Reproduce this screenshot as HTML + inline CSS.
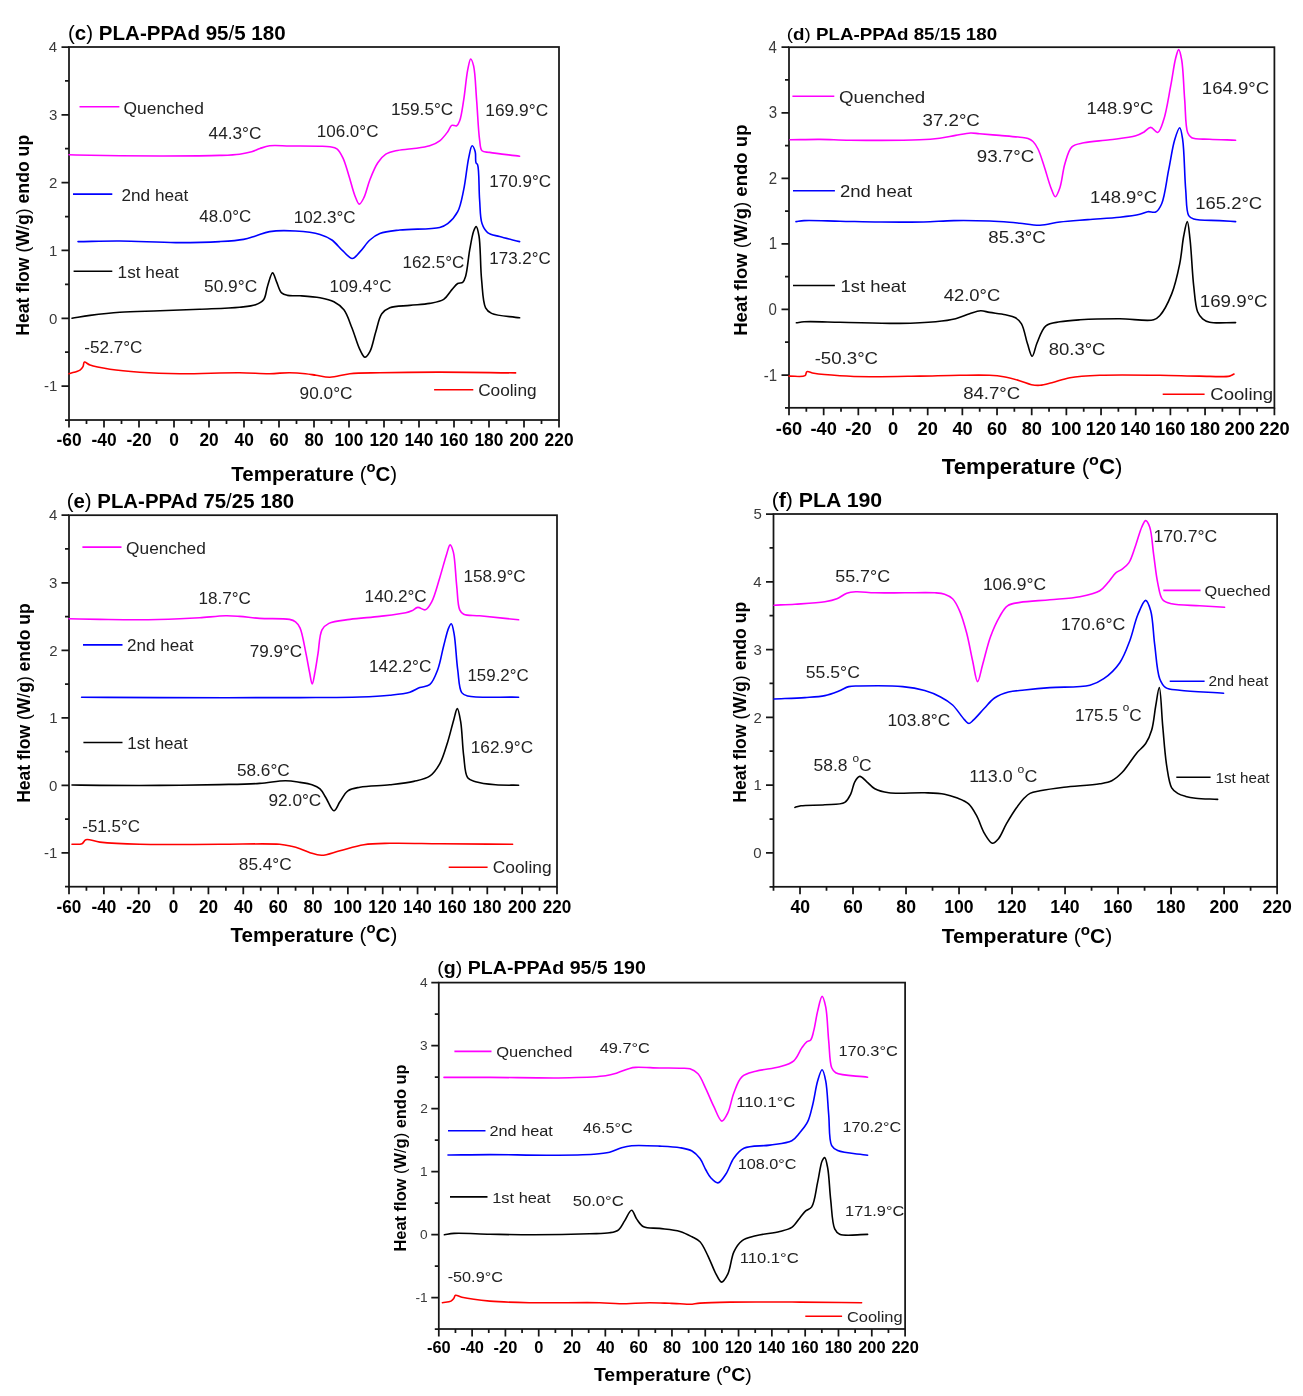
<!DOCTYPE html>
<html><head><meta charset="utf-8"><style>
html,body{margin:0;padding:0;background:#fff;}
svg{display:block;will-change:transform;}
text{font-family:"Liberation Sans", sans-serif;}
</style></head><body>
<svg width="1303" height="1396" viewBox="0 0 1303 1396">
<rect width="1303" height="1396" fill="#fff"/>
<path d="M69.00,420.00V427.50 M86.50,420.00V424.00 M104.00,420.00V427.50 M121.50,420.00V424.00 M139.00,420.00V427.50 M156.50,420.00V424.00 M174.00,420.00V427.50 M191.50,420.00V424.00 M209.00,420.00V427.50 M226.50,420.00V424.00 M244.00,420.00V427.50 M261.50,420.00V424.00 M279.00,420.00V427.50 M296.50,420.00V424.00 M314.00,420.00V427.50 M331.50,420.00V424.00 M349.00,420.00V427.50 M366.50,420.00V424.00 M384.00,420.00V427.50 M401.50,420.00V424.00 M419.00,420.00V427.50 M436.50,420.00V424.00 M454.00,420.00V427.50 M471.50,420.00V424.00 M489.00,420.00V427.50 M506.50,420.00V424.00 M524.00,420.00V427.50 M541.50,420.00V424.00 M559.00,420.00V427.50 M69.00,420.00H65.00 M69.00,386.09H61.50 M69.00,352.18H65.00 M69.00,318.27H61.50 M69.00,284.36H65.00 M69.00,250.45H61.50 M69.00,216.55H65.00 M69.00,182.64H61.50 M69.00,148.73H65.00 M69.00,114.82H61.50 M69.00,80.91H65.00 M69.00,47.00H61.50" stroke="#161616" stroke-width="1.75" fill="none"/>
<rect x="69.00" y="47.00" width="490.00" height="373.00" stroke="#161616" stroke-width="1.75" fill="none"/>
<text transform="translate(56.46,446.30) scale(0.9750,1)" font-size="17.80" font-weight="bold" fill="#000">-60</text>
<text transform="translate(91.46,446.30) scale(0.9750,1)" font-size="17.80" font-weight="bold" fill="#000">-40</text>
<text transform="translate(126.46,446.30) scale(0.9750,1)" font-size="17.80" font-weight="bold" fill="#000">-20</text>
<text transform="translate(169.18,446.30) scale(0.9750,1)" font-size="17.80" font-weight="bold" fill="#000">0</text>
<text transform="translate(199.41,446.30) scale(0.9750,1)" font-size="17.80" font-weight="bold" fill="#000">20</text>
<text transform="translate(234.58,446.30) scale(0.9750,1)" font-size="17.80" font-weight="bold" fill="#000">40</text>
<text transform="translate(269.41,446.30) scale(0.9750,1)" font-size="17.80" font-weight="bold" fill="#000">60</text>
<text transform="translate(304.45,446.30) scale(0.9750,1)" font-size="17.80" font-weight="bold" fill="#000">80</text>
<text transform="translate(334.38,446.30) scale(0.9750,1)" font-size="17.80" font-weight="bold" fill="#000">100</text>
<text transform="translate(369.38,446.30) scale(0.9750,1)" font-size="17.80" font-weight="bold" fill="#000">120</text>
<text transform="translate(404.38,446.30) scale(0.9750,1)" font-size="17.80" font-weight="bold" fill="#000">140</text>
<text transform="translate(439.38,446.30) scale(0.9750,1)" font-size="17.80" font-weight="bold" fill="#000">160</text>
<text transform="translate(474.38,446.30) scale(0.9750,1)" font-size="17.80" font-weight="bold" fill="#000">180</text>
<text transform="translate(509.60,446.30) scale(0.9750,1)" font-size="17.80" font-weight="bold" fill="#000">200</text>
<text transform="translate(544.60,446.30) scale(0.9750,1)" font-size="17.80" font-weight="bold" fill="#000">220</text>
<text transform="translate(48.83,52.17) scale(1.0000,1)" font-size="15.00" font-weight="normal" fill="#3a3a3a">4</text>
<text transform="translate(48.98,120.07) scale(1.0000,1)" font-size="15.00" font-weight="normal" fill="#3a3a3a">3</text>
<text transform="translate(49.12,187.89) scale(1.0000,1)" font-size="15.00" font-weight="normal" fill="#3a3a3a">2</text>
<text transform="translate(49.05,255.63) scale(1.0000,1)" font-size="15.00" font-weight="normal" fill="#3a3a3a">1</text>
<text transform="translate(48.90,323.52) scale(1.0000,1)" font-size="15.00" font-weight="normal" fill="#3a3a3a">0</text>
<text transform="translate(44.03,391.27) scale(1.0000,1)" font-size="15.00" font-weight="normal" fill="#3a3a3a">-1</text>
<text transform="translate(67.97,40.30) scale(1.0021,1)" font-size="20.50" font-weight="bold" fill="#000"><tspan font-weight="normal">(</tspan>c<tspan font-weight="normal">)</tspan> PLA-PPAd 95<tspan font-weight="normal">/</tspan>5 180</text>
<text transform="translate(231.29,480.60) scale(1.0252,1)" font-size="20.00" font-weight="bold" fill="#000">Temperature <tspan font-weight="normal">(</tspan><tspan dy="-8.40" font-size="14.40">o</tspan><tspan dy="8.40">C</tspan><tspan font-weight="normal">)</tspan></text>
<text transform="translate(28.80,335.85) rotate(-90) scale(0.9541,1)" font-size="18.50" font-weight="bold" fill="#000">Heat flow <tspan font-weight="normal">(</tspan>W<tspan font-weight="normal">/</tspan>g<tspan font-weight="normal">)</tspan> endo up</text>
<path d="M69.00,154.80 C76.00,154.97 82.38,155.15 90.00,155.30 C99.11,155.48 109.28,155.68 120.00,155.80 C132.38,155.93 145.34,156.04 160.00,156.00 C177.91,155.95 205.14,155.91 219.70,155.40 C228.12,155.10 233.82,154.95 239.60,154.20 C244.13,153.61 248.00,152.86 251.60,151.80 C254.69,150.89 257.08,149.48 260.00,148.50 C263.07,147.47 265.76,146.31 269.60,145.80 C275.09,145.07 282.57,145.94 290.00,146.00 C298.93,146.07 312.18,145.96 319.50,146.20 C323.85,146.34 326.80,146.27 329.90,146.80 C332.49,147.24 334.88,147.32 336.90,148.80 C339.36,150.60 341.11,154.15 342.90,157.80 C345.27,162.63 346.95,169.55 348.90,175.70 C350.95,182.17 352.79,190.53 354.90,195.70 C356.32,199.18 357.72,203.99 359.30,204.10 C360.74,204.20 362.46,200.51 363.90,197.70 C366.13,193.34 367.57,185.54 369.90,179.70 C372.21,173.91 374.76,167.31 377.80,162.80 C380.21,159.22 382.70,156.21 385.80,154.20 C388.74,152.30 392.03,151.67 395.80,150.80 C400.46,149.73 406.33,149.60 411.80,148.80 C417.61,147.95 424.70,147.43 429.70,145.80 C433.63,144.52 436.74,143.07 439.70,140.80 C442.77,138.45 445.58,134.63 447.70,131.80 C449.38,129.56 449.97,126.27 451.70,125.40 C453.11,124.69 455.39,126.47 456.70,125.80 C458.11,125.07 458.80,123.15 459.70,120.80 C461.41,116.32 462.46,107.51 463.70,99.90 C465.17,90.82 466.18,77.38 467.70,69.90 C468.63,65.33 469.60,59.07 470.70,59.00 C471.60,58.94 472.79,62.64 473.60,65.90 C475.32,72.86 475.64,88.11 476.60,99.90 C477.64,112.66 478.27,130.67 479.60,139.80 C480.31,144.64 479.97,148.79 482.00,150.80 C483.69,152.47 486.21,151.83 489.60,152.40 C496.28,153.52 509.60,154.93 519.60,156.20" stroke="#ff00ff" stroke-width="1.60" fill="none" stroke-linejoin="round" stroke-linecap="round"/>
<path d="M78.00,241.60 C91.97,241.40 104.93,240.89 119.90,241.00 C137.19,241.12 158.29,242.55 175.80,242.60 C191.32,242.65 207.28,242.31 219.70,241.60 C228.88,241.07 237.04,240.62 243.60,239.40 C248.33,238.52 251.46,237.24 255.60,236.00 C260.10,234.66 264.15,232.50 269.60,231.60 C276.85,230.40 287.01,230.51 295.50,231.00 C303.80,231.48 313.41,232.44 320.00,234.40 C324.81,235.83 328.22,237.42 331.90,240.00 C335.90,242.80 339.30,247.67 342.90,250.90 C346.08,253.75 349.35,258.55 352.30,258.50 C354.99,258.45 357.30,254.54 359.90,251.90 C363.13,248.62 366.32,243.16 369.90,240.00 C373.02,237.25 375.73,235.21 379.80,233.60 C385.14,231.49 391.96,230.96 399.80,230.00 C410.79,228.66 431.59,229.51 439.70,227.40 C443.52,226.41 445.10,225.61 447.70,223.60 C451.15,220.94 455.13,216.61 457.70,211.70 C460.82,205.75 461.97,197.77 463.70,189.70 C465.75,180.10 466.94,165.84 468.70,157.80 C469.80,152.80 470.81,145.93 472.10,145.80 C473.05,145.70 474.53,149.42 475.20,151.80 C476.06,154.84 475.15,160.71 476.00,162.80 C476.40,163.79 477.14,163.55 477.60,164.70 C479.32,169.03 478.77,189.15 479.60,199.70 C480.29,208.43 479.99,217.71 482.00,223.60 C483.33,227.51 484.88,230.45 487.60,232.60 C490.58,234.95 495.06,235.28 499.60,236.60 C505.39,238.29 512.93,239.93 519.60,241.60" stroke="#0000ff" stroke-width="1.60" fill="none" stroke-linejoin="round" stroke-linecap="round"/>
<path d="M72.00,318.20 C78.00,317.27 83.23,316.29 90.00,315.40 C98.70,314.26 109.20,312.96 119.90,312.20 C132.23,311.33 146.50,311.30 159.80,310.80 C173.10,310.30 186.40,309.80 199.70,309.20 C213.00,308.60 229.31,308.23 239.60,307.20 C246.15,306.55 251.31,306.38 255.60,304.80 C258.88,303.59 261.64,302.39 263.60,299.80 C266.02,296.59 266.08,290.42 267.60,285.90 C269.09,281.46 270.98,272.94 272.60,272.90 C273.96,272.87 275.19,278.75 276.60,281.90 C278.17,285.39 279.34,290.69 281.60,292.90 C283.25,294.51 285.11,294.87 287.50,295.40 C290.84,296.13 295.35,295.49 300.00,295.80 C305.89,296.19 313.99,296.64 320.00,297.80 C325.10,298.78 329.83,299.69 333.90,301.80 C337.73,303.78 341.09,306.16 343.90,309.80 C347.38,314.31 349.34,321.46 351.90,327.80 C354.69,334.70 357.23,344.40 359.90,349.70 C361.57,353.01 363.15,357.17 364.90,357.30 C366.49,357.42 368.42,354.36 369.90,351.70 C372.37,347.27 373.77,338.25 375.80,331.80 C377.74,325.63 378.83,317.92 381.80,313.80 C383.96,310.81 386.29,309.21 389.80,307.80 C394.78,305.80 403.14,306.13 409.80,305.40 C416.44,304.67 423.69,304.55 429.70,303.40 C434.82,302.42 439.96,301.82 443.70,299.40 C447.16,297.16 449.19,292.73 451.70,289.90 C453.81,287.53 455.60,284.72 457.70,283.50 C459.31,282.57 461.41,283.35 462.70,282.30 C464.21,281.06 464.81,278.84 465.70,275.90 C467.43,270.23 468.25,257.86 469.70,249.90 C470.95,243.08 472.17,235.03 473.70,231.00 C474.48,228.94 475.43,226.51 476.20,226.60 C477.27,226.72 478.23,231.65 479.00,236.00 C480.62,245.20 480.29,266.94 481.60,279.90 C482.65,290.27 482.73,302.29 485.60,307.80 C487.15,310.77 488.54,311.91 491.60,313.40 C497.28,316.17 510.27,316.33 519.60,317.80" stroke="#000000" stroke-width="1.60" fill="none" stroke-linejoin="round" stroke-linecap="round"/>
<path d="M69.00,373.70 C72.67,372.50 77.61,371.68 80.00,370.10 C81.50,369.11 82.27,368.01 83.00,366.70 C83.75,365.35 83.39,362.52 84.40,362.10 C85.56,361.62 87.47,364.18 90.00,365.10 C94.52,366.75 102.56,368.16 109.90,369.30 C118.82,370.69 129.10,371.58 139.80,372.30 C152.15,373.13 165.13,373.57 179.80,373.70 C197.73,373.86 223.07,372.56 239.60,372.70 C251.31,372.80 260.62,373.78 269.60,373.70 C276.91,373.64 283.23,372.66 289.50,372.70 C295.12,372.73 300.74,373.19 305.50,373.70 C309.38,374.12 312.25,374.75 316.00,375.30 C320.31,375.94 324.85,377.39 329.90,377.30 C335.97,377.19 342.53,374.48 349.90,373.70 C358.84,372.75 368.12,372.95 379.80,372.70 C396.33,372.34 418.55,372.09 439.70,372.10 C463.50,372.11 490.30,372.63 515.60,372.90" stroke="#ff0000" stroke-width="1.60" fill="none" stroke-linejoin="round" stroke-linecap="round"/>
<path d="M79.5,106.7H119.4" stroke="#ff00ff" stroke-width="1.60"/>
<path d="M73.0,194.1H112.3" stroke="#0000ff" stroke-width="1.60"/>
<path d="M73.6,271.3H112.3" stroke="#000000" stroke-width="1.60"/>
<path d="M434.1,389.7H473.3" stroke="#ff0000" stroke-width="1.60"/>
<text transform="translate(123.52,113.50) scale(1.0118,1)" font-size="17.20" font-weight="normal" fill="#222">Quenched</text>
<text transform="translate(121.44,200.70) scale(1.0006,1)" font-size="17.20" font-weight="normal" fill="#222">2nd heat</text>
<text transform="translate(117.61,277.90) scale(1.0022,1)" font-size="17.20" font-weight="normal" fill="#222">1st heat</text>
<text transform="translate(478.14,395.60) scale(1.0030,1)" font-size="17.20" font-weight="normal" fill="#222">Cooling</text>
<text transform="translate(208.56,138.80) scale(1.0025,1)" font-size="17.20" font-weight="normal" fill="#222">44.3°C</text>
<text transform="translate(316.72,136.80) scale(0.9905,1)" font-size="17.20" font-weight="normal" fill="#222">106.0°C</text>
<text transform="translate(390.91,114.90) scale(1.0021,1)" font-size="17.20" font-weight="normal" fill="#222">159.5°C</text>
<text transform="translate(485.30,116.40) scale(1.0087,1)" font-size="17.20" font-weight="normal" fill="#222">169.9°C</text>
<text transform="translate(199.36,222.00) scale(0.9832,1)" font-size="17.20" font-weight="normal" fill="#222">48.0°C</text>
<text transform="translate(293.82,222.60) scale(0.9905,1)" font-size="17.20" font-weight="normal" fill="#222">102.3°C</text>
<text transform="translate(489.32,187.10) scale(0.9922,1)" font-size="17.20" font-weight="normal" fill="#222">170.9°C</text>
<text transform="translate(204.01,292.30) scale(1.0092,1)" font-size="17.20" font-weight="normal" fill="#222">50.9°C</text>
<text transform="translate(329.62,291.90) scale(0.9922,1)" font-size="17.20" font-weight="normal" fill="#222">109.4°C</text>
<text transform="translate(402.52,268.30) scale(0.9922,1)" font-size="17.20" font-weight="normal" fill="#222">162.5°C</text>
<text transform="translate(489.33,264.30) scale(0.9856,1)" font-size="17.20" font-weight="normal" fill="#222">173.2°C</text>
<text transform="translate(84.23,353.30) scale(0.9947,1)" font-size="17.20" font-weight="normal" fill="#222">-52.7°C</text>
<text transform="translate(299.62,398.60) scale(1.0031,1)" font-size="17.20" font-weight="normal" fill="#222">90.0°C</text>
<path d="M789.00,407.80V415.30 M806.34,407.80V411.80 M823.67,407.80V415.30 M841.01,407.80V411.80 M858.34,407.80V415.30 M875.68,407.80V411.80 M893.01,407.80V415.30 M910.35,407.80V411.80 M927.69,407.80V415.30 M945.02,407.80V411.80 M962.36,407.80V415.30 M979.69,407.80V411.80 M997.03,407.80V415.30 M1014.36,407.80V411.80 M1031.70,407.80V415.30 M1049.04,407.80V411.80 M1066.37,407.80V415.30 M1083.71,407.80V411.80 M1101.04,407.80V415.30 M1118.38,407.80V411.80 M1135.71,407.80V415.30 M1153.05,407.80V411.80 M1170.39,407.80V415.30 M1187.72,407.80V411.80 M1205.06,407.80V415.30 M1222.39,407.80V411.80 M1239.73,407.80V415.30 M1257.06,407.80V411.80 M1274.40,407.80V415.30 M789.00,407.80H785.00 M789.00,375.02H781.50 M789.00,342.24H785.00 M789.00,309.45H781.50 M789.00,276.67H785.00 M789.00,243.89H781.50 M789.00,211.11H785.00 M789.00,178.33H781.50 M789.00,145.55H785.00 M789.00,112.76H781.50 M789.00,79.98H785.00 M789.00,47.20H781.50" stroke="#161616" stroke-width="1.75" fill="none"/>
<rect x="789.00" y="47.20" width="485.40" height="360.60" stroke="#161616" stroke-width="1.75" fill="none"/>
<text transform="translate(775.83,434.90) scale(1.0130,1)" font-size="18.00" font-weight="bold" fill="#000">-60</text>
<text transform="translate(810.50,434.90) scale(1.0130,1)" font-size="18.00" font-weight="bold" fill="#000">-40</text>
<text transform="translate(845.17,434.90) scale(1.0130,1)" font-size="18.00" font-weight="bold" fill="#000">-20</text>
<text transform="translate(887.95,434.90) scale(1.0130,1)" font-size="18.00" font-weight="bold" fill="#000">0</text>
<text transform="translate(917.61,434.90) scale(1.0130,1)" font-size="18.00" font-weight="bold" fill="#000">20</text>
<text transform="translate(952.47,434.90) scale(1.0130,1)" font-size="18.00" font-weight="bold" fill="#000">40</text>
<text transform="translate(986.95,434.90) scale(1.0130,1)" font-size="18.00" font-weight="bold" fill="#000">60</text>
<text transform="translate(1021.67,434.90) scale(1.0130,1)" font-size="18.00" font-weight="bold" fill="#000">80</text>
<text transform="translate(1051.01,434.90) scale(1.0130,1)" font-size="18.00" font-weight="bold" fill="#000">100</text>
<text transform="translate(1085.68,434.90) scale(1.0130,1)" font-size="18.00" font-weight="bold" fill="#000">120</text>
<text transform="translate(1120.35,434.90) scale(1.0130,1)" font-size="18.00" font-weight="bold" fill="#000">140</text>
<text transform="translate(1155.02,434.90) scale(1.0130,1)" font-size="18.00" font-weight="bold" fill="#000">160</text>
<text transform="translate(1189.69,434.90) scale(1.0130,1)" font-size="18.00" font-weight="bold" fill="#000">180</text>
<text transform="translate(1224.59,434.90) scale(1.0130,1)" font-size="18.00" font-weight="bold" fill="#000">200</text>
<text transform="translate(1259.27,434.90) scale(1.0130,1)" font-size="18.00" font-weight="bold" fill="#000">220</text>
<text transform="translate(768.50,52.72) scale(0.9400,1)" font-size="16.00" font-weight="normal" fill="#3a3a3a">4</text>
<text transform="translate(768.65,118.36) scale(0.9400,1)" font-size="16.00" font-weight="normal" fill="#3a3a3a">3</text>
<text transform="translate(768.80,183.93) scale(0.9400,1)" font-size="16.00" font-weight="normal" fill="#3a3a3a">2</text>
<text transform="translate(768.73,249.41) scale(0.9400,1)" font-size="16.00" font-weight="normal" fill="#3a3a3a">1</text>
<text transform="translate(768.58,315.05) scale(0.9400,1)" font-size="16.00" font-weight="normal" fill="#3a3a3a">0</text>
<text transform="translate(763.69,380.54) scale(0.9400,1)" font-size="16.00" font-weight="normal" fill="#3a3a3a">-1</text>
<text transform="translate(786.76,39.50) scale(1.1110,1)" font-size="16.90" font-weight="bold" fill="#000"><tspan font-weight="normal">(</tspan>d<tspan font-weight="normal">)</tspan> PLA-PPAd 85<tspan font-weight="normal">/</tspan>15 180</text>
<text transform="translate(941.68,474.30) scale(1.0403,1)" font-size="21.50" font-weight="bold" fill="#000">Temperature <tspan font-weight="normal">(</tspan><tspan dy="-9.03" font-size="15.48">o</tspan><tspan dy="9.03">C</tspan><tspan font-weight="normal">)</tspan></text>
<text transform="translate(746.90,335.81) rotate(-90) scale(1.0039,1)" font-size="18.50" font-weight="bold" fill="#000">Heat flow <tspan font-weight="normal">(</tspan>W<tspan font-weight="normal">/</tspan>g<tspan font-weight="normal">)</tspan> endo up</text>
<path d="M790.00,139.80 C799.97,139.67 809.93,139.33 819.90,139.40 C829.89,139.47 837.82,140.07 849.90,140.20 C868.33,140.39 903.48,140.49 919.70,139.80 C928.39,139.43 933.43,139.00 939.70,138.20 C945.32,137.48 950.37,136.28 955.60,135.40 C960.67,134.55 966.23,133.15 970.60,133.00 C973.97,132.88 976.01,133.50 979.60,133.80 C984.95,134.25 992.90,134.84 999.60,135.40 C1006.37,135.97 1014.77,136.58 1020.00,137.20 C1023.29,137.59 1025.72,137.56 1028.00,138.40 C1029.95,139.11 1031.48,140.03 1033.00,141.50 C1034.89,143.32 1036.43,145.89 1038.00,149.00 C1040.20,153.36 1041.99,159.73 1044.00,165.70 C1046.29,172.51 1048.65,182.04 1050.90,187.70 C1052.39,191.43 1053.80,196.69 1055.30,196.70 C1056.80,196.71 1058.55,191.53 1059.90,187.70 C1062.00,181.74 1062.69,171.00 1064.90,163.80 C1066.82,157.55 1068.21,150.25 1071.90,146.80 C1074.96,143.94 1079.07,143.87 1083.90,142.80 C1090.83,141.26 1101.17,140.96 1109.80,139.80 C1118.47,138.63 1129.70,137.61 1135.80,135.80 C1139.32,134.76 1141.29,133.62 1143.80,132.20 C1146.25,130.81 1148.40,127.39 1150.70,127.40 C1153.03,127.41 1155.70,132.92 1157.70,132.40 C1160.24,131.74 1161.90,125.16 1163.70,119.80 C1166.53,111.37 1168.62,96.66 1170.70,85.90 C1172.58,76.16 1173.96,64.54 1175.70,58.00 C1176.68,54.33 1177.74,49.57 1178.70,49.60 C1179.75,49.63 1180.86,55.35 1181.70,60.00 C1183.31,68.94 1183.65,87.24 1184.70,99.90 C1185.66,111.40 1185.29,126.82 1187.70,132.80 C1188.76,135.43 1189.53,136.65 1191.70,137.80 C1195.33,139.72 1203.07,138.82 1209.60,139.20 C1217.46,139.66 1226.93,139.87 1235.60,140.20" stroke="#ff00ff" stroke-width="1.60" fill="none" stroke-linejoin="round" stroke-linecap="round"/>
<path d="M796.00,221.60 C798.67,221.27 800.37,220.80 804.00,220.60 C811.67,220.19 827.62,220.97 839.90,221.20 C852.85,221.44 866.18,221.86 879.80,222.00 C894.08,222.14 910.46,222.31 923.70,222.00 C934.65,221.74 943.25,220.79 953.70,220.60 C965.13,220.40 979.39,220.64 989.60,221.00 C997.21,221.27 1003.92,221.77 1009.50,222.20 C1013.56,222.52 1015.94,222.79 1020.00,223.20 C1025.60,223.76 1033.36,225.50 1040.00,225.30 C1046.66,225.10 1052.68,222.91 1059.90,222.00 C1068.42,220.93 1078.26,220.38 1087.90,219.60 C1098.18,218.77 1110.42,218.23 1119.80,217.20 C1127.26,216.38 1134.69,215.50 1139.80,214.30 C1143.08,213.53 1145.02,212.08 1147.70,211.70 C1150.33,211.33 1153.45,213.09 1155.70,212.00 C1158.24,210.76 1159.96,207.66 1161.70,203.70 C1164.91,196.41 1166.47,180.67 1168.70,169.70 C1170.79,159.42 1172.37,147.44 1174.70,139.80 C1176.22,134.81 1178.36,127.70 1179.70,127.80 C1181.01,127.90 1181.87,134.38 1182.70,139.80 C1184.37,150.70 1184.48,175.78 1185.70,189.70 C1186.58,199.75 1186.04,211.21 1188.70,215.60 C1189.98,217.72 1191.22,218.15 1193.70,219.00 C1198.84,220.76 1212.00,220.13 1219.60,220.60 C1225.57,220.97 1230.27,221.27 1235.60,221.60" stroke="#0000ff" stroke-width="1.60" fill="none" stroke-linejoin="round" stroke-linecap="round"/>
<path d="M796.40,322.80 C798.93,322.47 800.52,322.01 804.00,321.80 C811.53,321.35 826.41,321.99 839.90,322.20 C857.33,322.47 882.38,323.61 899.80,323.40 C913.29,323.23 925.51,322.79 935.70,321.80 C943.33,321.06 949.61,320.31 955.60,318.80 C960.74,317.51 965.19,315.19 969.60,313.80 C973.46,312.59 977.10,310.96 980.60,310.80 C983.73,310.66 986.17,311.84 989.60,312.40 C994.15,313.15 1000.84,313.76 1005.50,314.80 C1009.25,315.64 1012.75,316.16 1015.50,317.80 C1017.98,319.28 1019.78,320.92 1021.50,323.80 C1024.19,328.31 1025.52,337.94 1027.50,343.80 C1029.08,348.48 1030.64,356.31 1032.20,356.30 C1033.81,356.29 1034.97,347.65 1037.00,343.00 C1039.38,337.56 1041.64,329.29 1045.90,325.80 C1049.59,322.78 1054.77,322.78 1059.90,321.80 C1065.93,320.65 1072.08,320.29 1079.90,319.80 C1090.92,319.11 1107.04,318.77 1119.80,318.80 C1131.56,318.83 1147.17,321.67 1153.70,319.80 C1156.71,318.94 1157.65,318.04 1159.70,315.80 C1163.52,311.63 1168.46,301.99 1171.70,293.90 C1175.31,284.88 1177.68,273.78 1179.70,263.90 C1181.62,254.49 1182.18,243.74 1183.70,236.00 C1184.80,230.38 1186.27,221.55 1187.30,221.60 C1188.45,221.65 1189.23,232.47 1190.10,240.00 C1191.46,251.84 1192.20,272.80 1193.70,285.90 C1194.83,295.78 1195.28,306.07 1197.60,311.80 C1198.93,315.09 1200.53,317.05 1202.60,318.80 C1204.57,320.46 1206.42,321.44 1209.60,322.20 C1215.42,323.59 1226.93,322.47 1235.60,322.60" stroke="#000000" stroke-width="1.60" fill="none" stroke-linejoin="round" stroke-linecap="round"/>
<path d="M789.00,376.10 C794.33,375.97 802.37,377.41 805.00,375.70 C806.38,374.80 805.74,372.26 806.90,371.70 C808.38,370.98 810.81,372.81 813.90,373.30 C819.80,374.24 830.92,375.14 839.90,375.70 C849.51,376.30 858.56,376.58 869.80,376.70 C884.31,376.86 904.00,376.35 919.70,376.10 C933.74,375.87 947.25,375.42 959.60,375.30 C970.31,375.19 981.49,374.90 989.60,375.30 C995.15,375.58 998.82,375.86 1003.60,376.70 C1008.76,377.60 1014.60,379.27 1019.50,380.70 C1023.81,381.96 1027.80,383.97 1031.50,384.70 C1034.54,385.30 1036.95,385.52 1040.00,385.30 C1043.65,385.04 1047.54,383.78 1051.90,382.70 C1057.30,381.36 1063.08,378.91 1069.90,377.70 C1078.55,376.17 1088.11,375.77 1099.80,375.30 C1116.32,374.64 1141.76,375.12 1159.70,375.30 C1174.35,375.45 1187.25,375.98 1199.60,376.10 C1210.31,376.21 1224.13,377.29 1229.60,376.10 C1231.80,375.62 1232.53,374.77 1234.00,374.10" stroke="#ff0000" stroke-width="1.60" fill="none" stroke-linejoin="round" stroke-linecap="round"/>
<path d="M792.4,96.3H834.3" stroke="#ff00ff" stroke-width="1.60"/>
<path d="M793.0,190.7H834.9" stroke="#0000ff" stroke-width="1.60"/>
<path d="M793.0,285.5H834.9" stroke="#000000" stroke-width="1.60"/>
<path d="M1162.7,394.3H1204.6" stroke="#ff0000" stroke-width="1.60"/>
<text transform="translate(839.06,102.90) scale(1.1466,1)" font-size="16.30" font-weight="normal" fill="#222">Quenched</text>
<text transform="translate(839.97,197.30) scale(1.1390,1)" font-size="16.30" font-weight="normal" fill="#222">2nd heat</text>
<text transform="translate(840.51,292.30) scale(1.1334,1)" font-size="16.30" font-weight="normal" fill="#222">1st heat</text>
<text transform="translate(1210.27,400.20) scale(1.1371,1)" font-size="16.30" font-weight="normal" fill="#222">Cooling</text>
<text transform="translate(922.55,126.20) scale(1.1470,1)" font-size="16.30" font-weight="normal" fill="#222">37.2°C</text>
<text transform="translate(976.76,162.20) scale(1.1489,1)" font-size="16.30" font-weight="normal" fill="#222">93.7°C</text>
<text transform="translate(1086.52,113.90) scale(1.1326,1)" font-size="16.30" font-weight="normal" fill="#222">148.9°C</text>
<text transform="translate(1201.80,94.30) scale(1.1413,1)" font-size="16.30" font-weight="normal" fill="#222">164.9°C</text>
<text transform="translate(1090.12,203.30) scale(1.1326,1)" font-size="16.30" font-weight="normal" fill="#222">148.9°C</text>
<text transform="translate(1195.21,208.70) scale(1.1344,1)" font-size="16.30" font-weight="normal" fill="#222">165.2°C</text>
<text transform="translate(988.36,243.00) scale(1.1489,1)" font-size="16.30" font-weight="normal" fill="#222">85.3°C</text>
<text transform="translate(943.73,301.40) scale(1.1312,1)" font-size="16.30" font-weight="normal" fill="#222">42.0°C</text>
<text transform="translate(1199.80,307.20) scale(1.1483,1)" font-size="16.30" font-weight="normal" fill="#222">169.9°C</text>
<text transform="translate(1048.67,355.10) scale(1.1366,1)" font-size="16.30" font-weight="normal" fill="#222">80.3°C</text>
<text transform="translate(814.66,364.10) scale(1.1438,1)" font-size="16.30" font-weight="normal" fill="#222">-50.3°C</text>
<text transform="translate(963.16,398.60) scale(1.1407,1)" font-size="16.30" font-weight="normal" fill="#222">84.7°C</text>
<path d="M69.00,886.70V894.20 M86.43,886.70V890.70 M103.86,886.70V894.20 M121.29,886.70V890.70 M138.71,886.70V894.20 M156.14,886.70V890.70 M173.57,886.70V894.20 M191.00,886.70V890.70 M208.43,886.70V894.20 M225.86,886.70V890.70 M243.29,886.70V894.20 M260.71,886.70V890.70 M278.14,886.70V894.20 M295.57,886.70V890.70 M313.00,886.70V894.20 M330.43,886.70V890.70 M347.86,886.70V894.20 M365.29,886.70V890.70 M382.71,886.70V894.20 M400.14,886.70V890.70 M417.57,886.70V894.20 M435.00,886.70V890.70 M452.43,886.70V894.20 M469.86,886.70V890.70 M487.29,886.70V894.20 M504.71,886.70V890.70 M522.14,886.70V894.20 M539.57,886.70V890.70 M557.00,886.70V894.20 M69.00,886.70H65.00 M69.00,852.93H61.50 M69.00,819.15H65.00 M69.00,785.38H61.50 M69.00,751.61H65.00 M69.00,717.84H61.50 M69.00,684.06H65.00 M69.00,650.29H61.50 M69.00,616.52H65.00 M69.00,582.75H61.50 M69.00,548.97H65.00 M69.00,515.20H61.50" stroke="#161616" stroke-width="1.75" fill="none"/>
<rect x="69.00" y="515.20" width="488.00" height="371.50" stroke="#161616" stroke-width="1.75" fill="none"/>
<text transform="translate(56.61,912.60) scale(0.9800,1)" font-size="17.50" font-weight="bold" fill="#000">-60</text>
<text transform="translate(91.47,912.60) scale(0.9800,1)" font-size="17.50" font-weight="bold" fill="#000">-40</text>
<text transform="translate(126.32,912.60) scale(0.9800,1)" font-size="17.50" font-weight="bold" fill="#000">-20</text>
<text transform="translate(168.81,912.60) scale(0.9800,1)" font-size="17.50" font-weight="bold" fill="#000">0</text>
<text transform="translate(198.95,912.60) scale(0.9800,1)" font-size="17.50" font-weight="bold" fill="#000">20</text>
<text transform="translate(233.98,912.60) scale(0.9800,1)" font-size="17.50" font-weight="bold" fill="#000">40</text>
<text transform="translate(268.67,912.60) scale(0.9800,1)" font-size="17.50" font-weight="bold" fill="#000">60</text>
<text transform="translate(303.57,912.60) scale(0.9800,1)" font-size="17.50" font-weight="bold" fill="#000">80</text>
<text transform="translate(333.41,912.60) scale(0.9800,1)" font-size="17.50" font-weight="bold" fill="#000">100</text>
<text transform="translate(368.27,912.60) scale(0.9800,1)" font-size="17.50" font-weight="bold" fill="#000">120</text>
<text transform="translate(403.12,912.60) scale(0.9800,1)" font-size="17.50" font-weight="bold" fill="#000">140</text>
<text transform="translate(437.98,912.60) scale(0.9800,1)" font-size="17.50" font-weight="bold" fill="#000">160</text>
<text transform="translate(472.84,912.60) scale(0.9800,1)" font-size="17.50" font-weight="bold" fill="#000">180</text>
<text transform="translate(507.91,912.60) scale(0.9800,1)" font-size="17.50" font-weight="bold" fill="#000">200</text>
<text transform="translate(542.77,912.60) scale(0.9800,1)" font-size="17.50" font-weight="bold" fill="#000">220</text>
<text transform="translate(48.92,520.38) scale(1.0000,1)" font-size="15.00" font-weight="normal" fill="#3a3a3a">4</text>
<text transform="translate(49.07,588.00) scale(1.0000,1)" font-size="15.00" font-weight="normal" fill="#3a3a3a">3</text>
<text transform="translate(49.22,655.54) scale(1.0000,1)" font-size="15.00" font-weight="normal" fill="#3a3a3a">2</text>
<text transform="translate(49.15,723.01) scale(1.0000,1)" font-size="15.00" font-weight="normal" fill="#3a3a3a">1</text>
<text transform="translate(49.00,790.63) scale(1.0000,1)" font-size="15.00" font-weight="normal" fill="#3a3a3a">0</text>
<text transform="translate(44.12,858.10) scale(1.0000,1)" font-size="15.00" font-weight="normal" fill="#3a3a3a">-1</text>
<text transform="translate(66.68,508.40) scale(1.0208,1)" font-size="20.00" font-weight="bold" fill="#000"><tspan font-weight="normal">(</tspan>e<tspan font-weight="normal">)</tspan> PLA-PPAd 75<tspan font-weight="normal">/</tspan>25 180</text>
<text transform="translate(230.49,941.60) scale(1.0519,1)" font-size="19.60" font-weight="bold" fill="#000">Temperature <tspan font-weight="normal">(</tspan><tspan dy="-8.23" font-size="14.11">o</tspan><tspan dy="8.23">C</tspan><tspan font-weight="normal">)</tspan></text>
<text transform="translate(29.70,802.84) rotate(-90) scale(0.9474,1)" font-size="18.50" font-weight="bold" fill="#000">Heat flow <tspan font-weight="normal">(</tspan>W<tspan font-weight="normal">/</tspan>g<tspan font-weight="normal">)</tspan> endo up</text>
<path d="M69.00,618.80 C79.30,619.00 88.94,619.24 99.90,619.40 C112.35,619.58 126.49,619.90 139.80,619.80 C153.13,619.70 168.77,619.21 179.80,618.80 C187.58,618.51 192.63,618.25 199.70,617.80 C207.79,617.29 218.38,615.92 225.70,615.80 C231.05,615.71 234.55,616.04 239.60,616.40 C245.67,616.83 252.26,617.91 259.60,618.40 C268.56,619.00 283.40,618.12 289.50,619.40 C292.34,620.00 293.79,620.49 295.50,621.80 C297.34,623.21 298.65,624.90 300.00,627.80 C302.54,633.25 304.33,645.80 306.00,653.70 C307.40,660.31 308.37,666.55 309.50,672.00 C310.42,676.43 311.28,684.00 312.20,684.00 C313.12,684.00 314.12,676.44 315.00,672.00 C316.08,666.56 316.92,660.21 318.00,653.70 C319.23,646.26 319.21,634.97 322.00,629.80 C323.74,626.58 325.66,625.04 328.90,623.40 C333.78,620.94 342.26,620.51 349.90,619.40 C358.96,618.08 370.19,617.55 379.80,616.40 C388.78,615.33 400.21,614.11 405.80,612.80 C408.54,612.16 409.84,611.67 411.80,610.80 C413.85,609.89 415.64,607.62 417.80,607.40 C420.11,607.16 423.09,610.47 425.30,609.80 C427.82,609.04 429.74,605.41 431.70,601.80 C434.78,596.14 437.20,585.90 439.70,577.90 C442.19,569.93 444.68,559.95 446.70,553.90 C447.95,550.15 448.94,544.94 450.10,544.90 C451.14,544.86 452.40,548.59 453.30,551.90 C455.19,558.87 455.54,575.48 456.70,585.80 C457.68,594.50 457.57,605.17 459.70,609.80 C460.76,612.10 461.65,613.17 463.70,614.20 C467.07,615.90 473.13,615.14 479.60,615.80 C489.73,616.83 505.60,618.47 518.60,619.80" stroke="#ff00ff" stroke-width="1.60" fill="none" stroke-linejoin="round" stroke-linecap="round"/>
<path d="M81.60,697.20 C107.67,697.33 129.96,697.52 159.80,697.60 C199.76,697.70 263.06,697.79 300.00,697.60 C324.15,697.48 343.37,697.58 359.90,697.00 C371.59,696.59 380.85,696.14 389.80,695.20 C397.15,694.43 404.37,693.82 409.80,692.20 C413.81,691.00 416.43,688.86 419.80,687.60 C423.06,686.38 426.94,686.95 429.70,684.70 C433.25,681.81 435.49,675.44 437.70,669.70 C440.37,662.78 441.74,653.10 443.70,645.70 C445.40,639.28 447.00,631.55 448.70,627.80 C449.56,625.90 450.53,623.68 451.30,623.80 C452.44,623.97 453.27,629.39 454.10,633.80 C455.65,642.02 456.24,659.10 457.70,669.70 C458.87,678.21 458.85,688.56 461.70,692.60 C463.25,694.80 464.56,695.13 467.70,696.00 C476.24,698.36 501.63,696.80 518.60,697.20" stroke="#0000ff" stroke-width="1.60" fill="none" stroke-linejoin="round" stroke-linecap="round"/>
<path d="M72.00,785.00 C81.30,785.13 88.84,785.32 99.90,785.40 C116.10,785.52 139.83,785.53 159.80,785.40 C179.77,785.27 201.76,784.99 219.70,784.60 C234.35,784.28 247.74,784.17 259.60,783.40 C269.17,782.78 278.11,780.76 285.50,780.80 C291.03,780.83 295.41,781.69 300.00,782.40 C304.20,783.05 308.47,783.59 312.00,784.80 C315.01,785.83 317.75,786.80 320.00,788.80 C322.47,791.00 323.81,794.51 325.90,797.80 C328.39,801.72 331.39,810.75 333.90,810.80 C336.01,810.84 337.72,804.93 339.90,801.80 C342.34,798.29 344.47,793.23 347.90,790.80 C351.19,788.46 354.94,788.13 359.90,787.20 C367.57,785.76 380.40,785.84 389.80,784.80 C398.25,783.86 406.68,783.05 413.80,781.40 C419.71,780.03 425.35,779.19 429.70,776.20 C433.93,773.29 436.88,768.87 439.70,763.90 C443.13,757.86 445.36,749.28 447.70,741.90 C450.01,734.61 451.90,726.01 453.70,719.90 C455.00,715.50 456.17,708.57 457.30,708.60 C458.52,708.64 459.76,716.40 460.70,721.90 C462.18,730.58 462.34,745.84 463.70,755.90 C464.80,764.03 464.62,773.68 467.70,777.80 C469.64,780.40 472.26,780.73 475.60,781.80 C480.65,783.41 488.68,784.22 495.60,784.80 C502.98,785.41 510.93,785.07 518.60,785.20" stroke="#000000" stroke-width="1.60" fill="none" stroke-linejoin="round" stroke-linecap="round"/>
<path d="M72.00,844.30 C75.33,844.10 79.58,844.81 82.00,843.70 C83.81,842.87 83.97,840.33 85.90,839.70 C88.97,838.70 94.01,841.44 99.90,842.10 C109.77,843.21 124.21,843.87 139.80,844.30 C161.85,844.91 194.98,844.30 219.70,844.30 C241.10,844.30 267.31,843.27 279.60,844.30 C285.11,844.76 287.89,845.49 291.50,846.30 C294.59,846.99 297.08,847.71 300.00,848.70 C303.23,849.80 306.50,851.61 310.00,852.70 C313.68,853.84 317.30,855.36 321.60,855.30 C327.02,855.23 333.39,852.33 339.90,850.70 C347.36,848.83 355.69,845.94 363.90,844.70 C372.31,843.43 379.76,843.53 389.80,843.30 C403.73,842.98 421.50,843.55 439.70,843.70 C461.70,843.88 488.30,844.10 512.60,844.30" stroke="#ff0000" stroke-width="1.60" fill="none" stroke-linejoin="round" stroke-linecap="round"/>
<path d="M82.4,547.1H121.5" stroke="#ff00ff" stroke-width="1.60"/>
<path d="M83.0,644.9H122.5" stroke="#0000ff" stroke-width="1.60"/>
<path d="M83.4,742.5H122.5" stroke="#000000" stroke-width="1.60"/>
<path d="M448.7,867.2H487.6" stroke="#ff0000" stroke-width="1.60"/>
<text transform="translate(126.12,553.50) scale(1.0595,1)" font-size="16.30" font-weight="normal" fill="#222">Quenched</text>
<text transform="translate(127.05,651.10) scale(1.0462,1)" font-size="16.30" font-weight="normal" fill="#222">2nd heat</text>
<text transform="translate(127.22,748.90) scale(1.0452,1)" font-size="16.30" font-weight="normal" fill="#222">1st heat</text>
<text transform="translate(492.73,873.20) scale(1.0659,1)" font-size="16.30" font-weight="normal" fill="#222">Cooling</text>
<text transform="translate(198.42,604.20) scale(1.0484,1)" font-size="16.30" font-weight="normal" fill="#222">18.7°C</text>
<text transform="translate(249.75,656.70) scale(1.0479,1)" font-size="16.30" font-weight="normal" fill="#222">79.9°C</text>
<text transform="translate(364.61,601.80) scale(1.0522,1)" font-size="16.30" font-weight="normal" fill="#222">140.2°C</text>
<text transform="translate(463.41,581.90) scale(1.0557,1)" font-size="16.30" font-weight="normal" fill="#222">158.9°C</text>
<text transform="translate(369.01,671.70) scale(1.0557,1)" font-size="16.30" font-weight="normal" fill="#222">142.2°C</text>
<text transform="translate(467.43,680.70) scale(1.0382,1)" font-size="16.30" font-weight="normal" fill="#222">159.2°C</text>
<text transform="translate(236.91,775.80) scale(1.0567,1)" font-size="16.30" font-weight="normal" fill="#222">58.6°C</text>
<text transform="translate(268.42,805.80) scale(1.0585,1)" font-size="16.30" font-weight="normal" fill="#222">92.0°C</text>
<text transform="translate(470.81,752.90) scale(1.0557,1)" font-size="16.30" font-weight="normal" fill="#222">162.9°C</text>
<text transform="translate(82.24,832.10) scale(1.0422,1)" font-size="16.30" font-weight="normal" fill="#222">-51.5°C</text>
<text transform="translate(238.82,869.60) scale(1.0585,1)" font-size="16.30" font-weight="normal" fill="#222">85.4°C</text>
<path d="M773.50,886.80V890.80 M800.01,886.80V894.30 M826.51,886.80V890.80 M853.02,886.80V894.30 M879.52,886.80V890.80 M906.03,886.80V894.30 M932.53,886.80V890.80 M959.04,886.80V894.30 M985.54,886.80V890.80 M1012.05,886.80V894.30 M1038.55,886.80V890.80 M1065.06,886.80V894.30 M1091.56,886.80V890.80 M1118.07,886.80V894.30 M1144.57,886.80V890.80 M1171.08,886.80V894.30 M1197.58,886.80V890.80 M1224.09,886.80V894.30 M1250.59,886.80V890.80 M1277.10,886.80V894.30 M773.50,886.80H769.50 M773.50,852.91H766.00 M773.50,819.02H769.50 M773.50,785.13H766.00 M773.50,751.24H769.50 M773.50,717.35H766.00 M773.50,683.45H769.50 M773.50,649.56H766.00 M773.50,615.67H769.50 M773.50,581.78H766.00 M773.50,547.89H769.50 M773.50,514.00H766.00" stroke="#161616" stroke-width="1.75" fill="none"/>
<rect x="773.50" y="514.00" width="503.60" height="372.80" stroke="#161616" stroke-width="1.75" fill="none"/>
<text transform="translate(790.46,913.10) scale(0.9780,1)" font-size="18.00" font-weight="bold" fill="#000">40</text>
<text transform="translate(843.29,913.10) scale(0.9780,1)" font-size="18.00" font-weight="bold" fill="#000">60</text>
<text transform="translate(896.34,913.10) scale(0.9780,1)" font-size="18.00" font-weight="bold" fill="#000">80</text>
<text transform="translate(944.21,913.10) scale(0.9780,1)" font-size="18.00" font-weight="bold" fill="#000">100</text>
<text transform="translate(997.22,913.10) scale(0.9780,1)" font-size="18.00" font-weight="bold" fill="#000">120</text>
<text transform="translate(1050.23,913.10) scale(0.9780,1)" font-size="18.00" font-weight="bold" fill="#000">140</text>
<text transform="translate(1103.24,913.10) scale(0.9780,1)" font-size="18.00" font-weight="bold" fill="#000">160</text>
<text transform="translate(1156.25,913.10) scale(0.9780,1)" font-size="18.00" font-weight="bold" fill="#000">180</text>
<text transform="translate(1209.48,913.10) scale(0.9780,1)" font-size="18.00" font-weight="bold" fill="#000">200</text>
<text transform="translate(1262.49,913.10) scale(0.9780,1)" font-size="18.00" font-weight="bold" fill="#000">220</text>
<text transform="translate(753.38,519.17) scale(1.0000,1)" font-size="15.00" font-weight="normal" fill="#3a3a3a">5</text>
<text transform="translate(753.23,586.96) scale(1.0000,1)" font-size="15.00" font-weight="normal" fill="#3a3a3a">4</text>
<text transform="translate(753.38,654.81) scale(1.0000,1)" font-size="15.00" font-weight="normal" fill="#3a3a3a">3</text>
<text transform="translate(753.52,722.60) scale(1.0000,1)" font-size="15.00" font-weight="normal" fill="#3a3a3a">2</text>
<text transform="translate(753.45,790.30) scale(1.0000,1)" font-size="15.00" font-weight="normal" fill="#3a3a3a">1</text>
<text transform="translate(753.30,858.16) scale(1.0000,1)" font-size="15.00" font-weight="normal" fill="#3a3a3a">0</text>
<text transform="translate(771.63,506.50) scale(1.0407,1)" font-size="20.50" font-weight="bold" fill="#000"><tspan font-weight="normal">(</tspan>f<tspan font-weight="normal">)</tspan> PLA 190</text>
<text transform="translate(941.79,942.90) scale(1.0546,1)" font-size="20.00" font-weight="bold" fill="#000">Temperature <tspan font-weight="normal">(</tspan><tspan dy="-8.40" font-size="14.40">o</tspan><tspan dy="8.40">C</tspan><tspan font-weight="normal">)</tspan></text>
<text transform="translate(746.40,802.85) rotate(-90) scale(0.9551,1)" font-size="18.50" font-weight="bold" fill="#000">Heat flow <tspan font-weight="normal">(</tspan>W<tspan font-weight="normal">/</tspan>g<tspan font-weight="normal">)</tspan> endo up</text>
<path d="M774.00,605.20 C781.00,604.87 787.39,604.69 795.00,604.20 C804.09,603.62 817.21,603.06 824.90,601.80 C829.84,600.99 833.19,600.28 836.90,598.80 C840.46,597.38 843.47,594.36 846.80,593.20 C849.78,592.16 852.23,591.98 855.80,591.80 C860.95,591.54 867.75,592.61 874.80,592.80 C883.64,593.03 894.73,592.80 904.70,592.80 C914.69,592.80 927.42,592.29 934.70,592.80 C938.91,593.10 941.57,593.16 944.60,594.20 C947.51,595.20 950.28,596.49 952.60,598.80 C955.45,601.63 957.49,606.07 959.60,610.80 C962.31,616.89 964.52,624.90 966.60,632.70 C968.92,641.41 970.64,652.06 972.60,660.70 C974.30,668.19 975.84,681.55 977.60,681.60 C979.19,681.64 980.77,671.05 982.60,664.70 C984.96,656.55 987.42,645.13 990.50,636.70 C993.17,629.39 996.29,622.32 999.50,616.80 C1002.03,612.44 1004.02,608.20 1007.50,605.80 C1010.89,603.46 1014.89,603.31 1020.00,602.40 C1027.78,601.02 1039.93,600.73 1049.90,599.80 C1059.89,598.87 1071.00,598.57 1079.90,596.80 C1087.29,595.33 1094.90,593.73 1099.80,590.80 C1103.41,588.64 1105.21,585.68 1107.80,582.80 C1110.55,579.74 1113.12,575.23 1115.80,572.90 C1117.79,571.17 1119.80,570.79 1121.80,569.30 C1124.13,567.56 1126.75,565.89 1128.80,562.90 C1131.72,558.64 1133.62,550.92 1135.80,544.90 C1137.95,538.95 1139.76,531.38 1141.80,527.00 C1143.08,524.24 1144.39,520.61 1145.70,520.60 C1147.02,520.59 1148.59,523.95 1149.70,527.00 C1151.85,532.89 1152.37,545.60 1153.70,554.90 C1155.03,564.20 1155.94,574.70 1157.70,582.80 C1159.10,589.22 1159.68,596.36 1162.70,599.80 C1164.95,602.37 1167.76,602.82 1171.70,603.80 C1178.34,605.46 1190.55,605.22 1199.60,605.80 C1208.16,606.35 1216.27,606.73 1224.60,607.20" stroke="#ff00ff" stroke-width="1.60" fill="none" stroke-linejoin="round" stroke-linecap="round"/>
<path d="M774.00,699.00 C784.30,698.53 795.72,698.27 804.90,697.60 C812.30,697.06 818.89,696.87 824.90,695.60 C830.05,694.51 834.67,692.63 838.90,691.00 C842.52,689.60 845.42,687.43 848.80,686.60 C852.05,685.81 854.28,686.10 858.80,686.00 C868.25,685.78 890.61,685.43 902.70,686.60 C911.33,687.44 918.05,688.68 924.70,690.60 C930.52,692.28 935.79,694.46 940.60,697.00 C945.01,699.33 948.84,701.57 952.60,705.00 C956.92,708.95 961.45,716.72 964.60,719.90 C966.32,721.63 967.51,723.48 969.00,723.50 C970.51,723.52 971.82,721.54 973.60,719.90 C976.57,717.16 981.00,711.77 984.60,708.00 C987.96,704.49 990.62,700.64 994.50,698.00 C998.54,695.25 1003.58,693.33 1008.50,692.00 C1013.56,690.63 1018.55,690.65 1024.50,690.00 C1031.99,689.18 1040.47,688.33 1049.90,687.60 C1061.72,686.69 1080.18,687.67 1089.90,685.20 C1095.92,683.67 1099.28,681.87 1103.80,678.70 C1109.29,674.85 1115.50,668.90 1119.80,662.70 C1124.24,656.29 1126.86,648.43 1129.80,640.70 C1132.91,632.51 1134.73,622.05 1137.80,614.80 C1140.19,609.16 1143.42,600.34 1145.70,600.40 C1147.61,600.45 1149.36,606.19 1150.70,610.80 C1153.00,618.72 1153.20,633.40 1154.70,644.70 C1156.20,656.04 1156.81,671.23 1159.70,678.70 C1161.32,682.87 1162.75,685.66 1165.70,687.60 C1169.10,689.83 1173.71,689.44 1179.70,690.20 C1190.23,691.53 1208.97,692.20 1223.60,693.20" stroke="#0000ff" stroke-width="1.60" fill="none" stroke-linejoin="round" stroke-linecap="round"/>
<path d="M794.90,807.40 C796.90,806.87 798.20,806.21 800.90,805.80 C806.20,804.99 817.29,805.42 824.90,804.80 C831.86,804.24 840.41,805.04 844.80,802.40 C847.97,800.49 849.17,797.04 850.80,793.80 C852.59,790.25 852.98,784.87 854.80,781.80 C856.19,779.46 857.91,776.56 859.80,776.40 C861.87,776.23 864.42,779.84 866.80,781.80 C869.41,783.95 871.52,787.02 874.80,788.80 C878.63,790.89 882.98,791.99 888.80,792.80 C897.93,794.08 914.49,792.44 924.70,792.80 C932.31,793.07 938.85,793.15 944.60,794.20 C949.16,795.03 952.67,796.24 956.60,797.80 C960.67,799.41 965.30,800.90 968.60,803.80 C972.01,806.80 974.11,811.20 976.60,815.70 C979.51,820.97 981.57,828.80 984.60,833.70 C987.01,837.59 989.91,843.00 992.50,843.30 C994.52,843.53 996.59,840.95 998.50,838.70 C1001.37,835.32 1003.59,828.72 1006.50,823.70 C1009.56,818.42 1013.22,812.41 1016.50,807.80 C1019.21,803.99 1021.95,800.35 1024.50,797.80 C1026.39,795.91 1027.75,794.53 1030.00,793.40 C1032.72,792.04 1035.93,791.63 1040.00,790.80 C1046.23,789.52 1055.11,788.28 1063.90,787.20 C1074.64,785.88 1091.07,785.30 1099.80,783.80 C1104.91,782.92 1108.16,782.60 1111.80,780.80 C1115.50,778.97 1118.91,775.72 1121.80,772.80 C1124.52,770.06 1126.42,767.05 1128.80,763.90 C1131.41,760.45 1133.94,756.34 1136.80,752.90 C1139.59,749.55 1143.26,747.16 1145.70,743.50 C1148.31,739.57 1150.12,735.18 1151.70,729.90 C1153.72,723.16 1154.35,713.45 1155.70,706.00 C1156.89,699.43 1158.27,687.45 1159.30,687.50 C1160.78,687.58 1161.48,712.98 1162.70,725.90 C1163.94,739.08 1164.86,754.51 1166.70,765.80 C1168.08,774.27 1169.00,783.11 1171.70,787.80 C1173.33,790.63 1175.40,791.97 1177.70,793.40 C1180.05,794.86 1182.85,795.61 1185.70,796.40 C1188.79,797.25 1191.63,797.73 1195.60,798.20 C1201.47,798.89 1210.27,799.00 1217.60,799.40" stroke="#000000" stroke-width="1.60" fill="none" stroke-linejoin="round" stroke-linecap="round"/>
<path d="M1163.3,590.4H1200.6" stroke="#ff00ff" stroke-width="1.60"/>
<path d="M1169.7,681.2H1204.6" stroke="#0000ff" stroke-width="1.60"/>
<path d="M1176.3,777.2H1210.6" stroke="#000000" stroke-width="1.60"/>
<text transform="translate(835.18,581.80) scale(1.1397,1)" font-size="15.70" font-weight="normal" fill="#222">55.7°C</text>
<text transform="translate(982.89,589.80) scale(1.1124,1)" font-size="15.70" font-weight="normal" fill="#222">106.9°C</text>
<text transform="translate(1153.38,541.50) scale(1.1233,1)" font-size="15.70" font-weight="normal" fill="#222">170.7°C</text>
<text transform="translate(1204.47,595.80) scale(1.1227,1)" font-size="14.50" font-weight="normal" fill="#222">Queched</text>
<text transform="translate(1060.96,630.30) scale(1.1342,1)" font-size="15.70" font-weight="normal" fill="#222">170.6°C</text>
<text transform="translate(805.79,677.70) scale(1.1226,1)" font-size="15.70" font-weight="normal" fill="#222">55.5°C</text>
<text transform="translate(1208.43,686.20) scale(1.0592,1)" font-size="14.50" font-weight="normal" fill="#222">2nd heat</text>
<text transform="translate(887.50,725.50) scale(1.1033,1)" font-size="15.70" font-weight="normal" fill="#222">103.8°C</text>
<text transform="translate(1075.01,720.90) scale(1.0941,1)" font-size="15.70" font-weight="normal" fill="#222">175.5 <tspan dy="-9.42" font-size="10.68">o</tspan><tspan dy="9.42">C</tspan></text>
<text transform="translate(813.60,771.00) scale(1.1122,1)" font-size="15.70" font-weight="normal" fill="#222">58.8 <tspan dy="-9.42" font-size="10.68">o</tspan><tspan dy="9.42">C</tspan></text>
<text transform="translate(969.26,782.20) scale(1.1384,1)" font-size="15.70" font-weight="normal" fill="#222">113.0 <tspan dy="-9.42" font-size="10.68">o</tspan><tspan dy="9.42">C</tspan></text>
<text transform="translate(1215.46,782.80) scale(1.0499,1)" font-size="14.50" font-weight="normal" fill="#222">1st heat</text>
<path d="M438.80,1329.00V1336.50 M455.45,1329.00V1333.00 M472.11,1329.00V1336.50 M488.76,1329.00V1333.00 M505.41,1329.00V1336.50 M522.07,1329.00V1333.00 M538.72,1329.00V1336.50 M555.38,1329.00V1333.00 M572.03,1329.00V1336.50 M588.68,1329.00V1333.00 M605.34,1329.00V1336.50 M621.99,1329.00V1333.00 M638.64,1329.00V1336.50 M655.30,1329.00V1333.00 M671.95,1329.00V1336.50 M688.60,1329.00V1333.00 M705.26,1329.00V1336.50 M721.91,1329.00V1333.00 M738.56,1329.00V1336.50 M755.22,1329.00V1333.00 M771.87,1329.00V1336.50 M788.53,1329.00V1333.00 M805.18,1329.00V1336.50 M821.83,1329.00V1333.00 M838.49,1329.00V1336.50 M855.14,1329.00V1333.00 M871.79,1329.00V1336.50 M888.45,1329.00V1333.00 M905.10,1329.00V1336.50 M438.80,1329.00H434.80 M438.80,1297.51H431.30 M438.80,1266.02H434.80 M438.80,1234.53H431.30 M438.80,1203.04H434.80 M438.80,1171.55H431.30 M438.80,1140.05H434.80 M438.80,1108.56H431.30 M438.80,1077.07H434.80 M438.80,1045.58H431.30 M438.80,1014.09H434.80 M438.80,982.60H431.30" stroke="#161616" stroke-width="1.75" fill="none"/>
<rect x="438.80" y="982.60" width="466.30" height="346.40" stroke="#161616" stroke-width="1.75" fill="none"/>
<text transform="translate(426.94,1353.00) scale(1.0260,1)" font-size="16.00" font-weight="bold" fill="#000">-60</text>
<text transform="translate(460.25,1353.00) scale(1.0260,1)" font-size="16.00" font-weight="bold" fill="#000">-40</text>
<text transform="translate(493.55,1353.00) scale(1.0260,1)" font-size="16.00" font-weight="bold" fill="#000">-20</text>
<text transform="translate(534.17,1353.00) scale(1.0260,1)" font-size="16.00" font-weight="bold" fill="#000">0</text>
<text transform="translate(562.96,1353.00) scale(1.0260,1)" font-size="16.00" font-weight="bold" fill="#000">20</text>
<text transform="translate(596.43,1353.00) scale(1.0260,1)" font-size="16.00" font-weight="bold" fill="#000">40</text>
<text transform="translate(629.57,1353.00) scale(1.0260,1)" font-size="16.00" font-weight="bold" fill="#000">60</text>
<text transform="translate(662.92,1353.00) scale(1.0260,1)" font-size="16.00" font-weight="bold" fill="#000">80</text>
<text transform="translate(691.43,1353.00) scale(1.0260,1)" font-size="16.00" font-weight="bold" fill="#000">100</text>
<text transform="translate(724.73,1353.00) scale(1.0260,1)" font-size="16.00" font-weight="bold" fill="#000">120</text>
<text transform="translate(758.04,1353.00) scale(1.0260,1)" font-size="16.00" font-weight="bold" fill="#000">140</text>
<text transform="translate(791.35,1353.00) scale(1.0260,1)" font-size="16.00" font-weight="bold" fill="#000">160</text>
<text transform="translate(824.66,1353.00) scale(1.0260,1)" font-size="16.00" font-weight="bold" fill="#000">180</text>
<text transform="translate(858.17,1353.00) scale(1.0260,1)" font-size="16.00" font-weight="bold" fill="#000">200</text>
<text transform="translate(891.47,1353.00) scale(1.0260,1)" font-size="16.00" font-weight="bold" fill="#000">220</text>
<text transform="translate(419.91,987.33) scale(1.0000,1)" font-size="13.70" font-weight="normal" fill="#3a3a3a">4</text>
<text transform="translate(420.04,1050.38) scale(1.0000,1)" font-size="13.70" font-weight="normal" fill="#3a3a3a">3</text>
<text transform="translate(420.18,1113.36) scale(1.0000,1)" font-size="13.70" font-weight="normal" fill="#3a3a3a">2</text>
<text transform="translate(420.11,1176.27) scale(1.0000,1)" font-size="13.70" font-weight="normal" fill="#3a3a3a">1</text>
<text transform="translate(419.98,1239.32) scale(1.0000,1)" font-size="13.70" font-weight="normal" fill="#3a3a3a">0</text>
<text transform="translate(415.52,1302.24) scale(1.0000,1)" font-size="13.70" font-weight="normal" fill="#3a3a3a">-1</text>
<text transform="translate(437.32,974.30) scale(1.1002,1)" font-size="17.80" font-weight="bold" fill="#000"><tspan font-weight="normal">(</tspan>g<tspan font-weight="normal">)</tspan> PLA-PPAd 95<tspan font-weight="normal">/</tspan>5 190</text>
<text transform="translate(593.90,1380.70) scale(1.0273,1)" font-size="19.00" font-weight="bold" fill="#000">Temperature <tspan font-weight="normal">(</tspan><tspan dy="-7.98" font-size="13.68">o</tspan><tspan dy="7.98">C</tspan><tspan font-weight="normal">)</tspan></text>
<text transform="translate(406.30,1251.57) rotate(-90) scale(1.0027,1)" font-size="16.40" font-weight="bold" fill="#000">Heat flow <tspan font-weight="normal">(</tspan>W<tspan font-weight="normal">/</tspan>g<tspan font-weight="normal">)</tspan> endo up</text>
<path d="M444.00,1077.40 C459.30,1077.40 472.50,1077.36 489.90,1077.40 C512.85,1077.46 548.35,1078.34 569.70,1077.80 C584.03,1077.44 596.88,1077.12 605.60,1075.80 C610.72,1075.03 613.63,1074.02 617.60,1072.80 C621.63,1071.56 626.25,1069.28 629.60,1068.40 C631.91,1067.79 632.92,1067.59 635.60,1067.40 C640.91,1067.03 651.84,1067.87 659.50,1068.00 C666.59,1068.12 674.38,1068.00 680.00,1068.20 C683.93,1068.34 686.96,1067.83 690.00,1068.80 C692.95,1069.74 695.63,1071.25 698.00,1073.80 C701.17,1077.22 703.34,1083.54 705.90,1088.80 C708.65,1094.46 711.11,1101.11 713.90,1106.70 C716.46,1111.82 719.31,1120.95 721.90,1121.10 C723.95,1121.22 726.14,1116.28 727.90,1112.70 C730.39,1107.63 731.45,1098.97 733.90,1092.80 C736.18,1087.07 737.98,1080.41 741.90,1076.80 C745.49,1073.49 750.45,1072.75 755.80,1071.20 C762.63,1069.22 772.97,1068.86 779.80,1066.80 C785.20,1065.17 790.13,1063.95 793.80,1060.80 C797.46,1057.65 799.36,1051.32 801.80,1047.90 C803.55,1045.45 805.00,1043.26 806.70,1041.90 C807.99,1040.87 809.63,1041.13 810.70,1039.90 C812.26,1038.10 812.74,1034.53 813.70,1030.90 C815.11,1025.58 816.17,1017.00 817.70,1010.90 C819.02,1005.64 820.67,996.43 822.10,996.40 C823.33,996.38 824.73,1002.32 825.70,1006.90 C827.40,1014.92 827.63,1030.24 828.70,1040.90 C829.65,1050.40 829.53,1062.56 831.70,1067.80 C832.76,1070.35 833.32,1071.45 835.70,1072.80 C841.05,1075.84 856.97,1075.73 867.60,1077.20" stroke="#ff00ff" stroke-width="1.60" fill="none" stroke-linejoin="round" stroke-linecap="round"/>
<path d="M448.00,1155.00 C461.97,1154.87 474.69,1154.60 489.90,1154.60 C508.09,1154.60 531.38,1155.32 549.80,1155.20 C565.57,1155.10 582.72,1155.01 593.70,1154.20 C600.33,1153.71 604.74,1153.40 609.60,1152.20 C613.95,1151.13 617.74,1148.80 621.60,1147.70 C625.04,1146.72 627.40,1146.09 631.60,1145.70 C638.54,1145.06 650.92,1145.70 659.50,1146.10 C666.86,1146.44 674.12,1146.67 680.00,1147.70 C684.58,1148.50 688.60,1149.08 692.00,1151.00 C695.20,1152.81 697.74,1155.59 700.00,1158.60 C702.44,1161.85 703.93,1166.58 705.90,1170.00 C707.60,1172.94 708.92,1175.82 711.00,1178.00 C712.96,1180.06 715.63,1183.15 717.90,1182.90 C720.60,1182.60 723.45,1177.59 725.90,1174.00 C728.89,1169.61 730.64,1162.45 733.90,1158.00 C736.77,1154.08 739.31,1150.50 743.90,1148.30 C750.18,1145.29 761.54,1146.43 769.80,1145.10 C777.46,1143.86 786.56,1143.50 791.80,1140.70 C795.52,1138.71 797.26,1135.69 799.80,1132.70 C802.58,1129.42 805.62,1125.97 807.70,1121.70 C810.08,1116.82 811.15,1110.88 812.70,1104.70 C814.52,1097.44 815.77,1087.17 817.70,1080.80 C819.04,1076.36 820.76,1069.76 822.10,1069.80 C823.42,1069.84 824.73,1076.06 825.70,1080.80 C827.37,1088.93 827.68,1103.65 828.70,1114.70 C829.68,1125.27 828.69,1140.08 831.70,1145.70 C833.20,1148.50 834.68,1149.25 837.70,1150.60 C843.67,1153.26 857.63,1153.67 867.60,1155.20" stroke="#0000ff" stroke-width="1.60" fill="none" stroke-linejoin="round" stroke-linecap="round"/>
<path d="M444.40,1234.80 C447.60,1234.33 449.77,1233.66 454.00,1233.40 C462.14,1232.90 477.33,1233.97 489.90,1234.20 C503.80,1234.45 518.28,1234.83 533.80,1234.80 C551.31,1234.76 575.78,1234.27 589.70,1233.80 C598.01,1233.52 604.32,1233.79 609.60,1232.80 C613.24,1232.11 616.14,1231.67 618.60,1229.80 C621.21,1227.81 622.53,1224.00 624.60,1220.90 C626.85,1217.53 629.51,1210.24 631.60,1210.30 C633.45,1210.35 634.64,1216.19 636.60,1218.90 C638.62,1221.70 640.38,1225.15 643.60,1226.80 C647.56,1228.83 653.87,1227.71 659.50,1228.40 C665.91,1229.19 674.18,1229.70 680.00,1231.40 C684.64,1232.76 688.46,1234.91 692.00,1236.80 C695.00,1238.40 697.61,1239.31 700.00,1241.80 C703.11,1245.06 705.37,1250.78 707.90,1255.80 C710.70,1261.36 713.26,1269.04 715.90,1273.80 C717.78,1277.20 719.53,1282.04 721.50,1282.10 C723.52,1282.16 726.08,1277.46 727.90,1273.80 C730.58,1268.40 731.08,1257.67 733.90,1251.80 C736.08,1247.26 738.36,1243.45 741.90,1240.80 C745.59,1238.03 750.47,1237.24 755.80,1235.80 C762.65,1233.95 773.22,1233.09 779.80,1231.40 C784.54,1230.18 788.46,1229.67 791.80,1227.40 C795.11,1225.15 797.34,1220.83 799.80,1217.90 C801.92,1215.39 803.58,1212.79 805.70,1210.90 C807.58,1209.22 810.03,1209.30 811.70,1206.90 C814.86,1202.37 815.90,1189.87 817.70,1181.90 C819.34,1174.63 820.31,1164.90 822.10,1161.00 C822.90,1159.25 823.93,1157.45 824.70,1157.60 C825.93,1157.83 826.85,1163.54 827.70,1168.00 C829.16,1175.68 829.50,1189.54 830.70,1199.90 C831.85,1209.78 832.05,1223.19 834.70,1228.80 C836.03,1231.62 836.98,1233.00 839.70,1234.20 C845.00,1236.54 858.30,1234.33 867.60,1234.40" stroke="#000000" stroke-width="1.60" fill="none" stroke-linejoin="round" stroke-linecap="round"/>
<path d="M442.40,1302.70 C445.27,1302.17 449.05,1302.08 451.00,1301.10 C452.24,1300.48 452.86,1299.64 453.60,1298.70 C454.37,1297.72 454.44,1295.72 455.50,1295.30 C456.89,1294.74 458.98,1296.65 461.90,1297.30 C467.90,1298.64 479.72,1300.21 489.90,1301.10 C502.00,1302.16 514.64,1302.40 529.80,1302.70 C549.85,1303.10 583.49,1302.29 599.70,1302.70 C608.35,1302.92 612.29,1303.64 619.60,1303.70 C628.58,1303.78 640.62,1302.71 649.60,1302.70 C656.91,1302.69 663.92,1303.11 669.50,1303.30 C673.56,1303.44 676.54,1303.53 680.00,1303.70 C683.37,1303.87 686.67,1304.40 690.00,1304.30 C693.34,1304.20 695.77,1303.42 700.00,1303.10 C707.30,1302.54 717.85,1302.30 729.90,1302.10 C748.32,1301.79 777.22,1301.99 799.80,1302.10 C821.03,1302.20 841.00,1302.50 861.60,1302.70" stroke="#ff0000" stroke-width="1.60" fill="none" stroke-linejoin="round" stroke-linecap="round"/>
<path d="M454.4,1051.4H491.5" stroke="#ff00ff" stroke-width="1.60"/>
<path d="M448.0,1130.7H485.5" stroke="#0000ff" stroke-width="1.60"/>
<path d="M450.0,1196.9H487.5" stroke="#000000" stroke-width="1.60"/>
<path d="M805.3,1316.3H842.1" stroke="#ff0000" stroke-width="1.60"/>
<text transform="translate(496.16,1057.20) scale(1.0865,1)" font-size="15.20" font-weight="normal" fill="#222">Quenched</text>
<text transform="translate(489.49,1136.30) scale(1.0722,1)" font-size="15.20" font-weight="normal" fill="#222">2nd heat</text>
<text transform="translate(492.27,1202.90) scale(1.0772,1)" font-size="15.20" font-weight="normal" fill="#222">1st heat</text>
<text transform="translate(846.88,1321.70) scale(1.0828,1)" font-size="15.20" font-weight="normal" fill="#222">Cooling</text>
<text transform="translate(599.77,1053.40) scale(1.0732,1)" font-size="15.20" font-weight="normal" fill="#222">49.7°C</text>
<text transform="translate(582.98,1133.30) scale(1.0644,1)" font-size="15.20" font-weight="normal" fill="#222">46.5°C</text>
<text transform="translate(838.47,1056.40) scale(1.0777,1)" font-size="15.20" font-weight="normal" fill="#222">170.3°C</text>
<text transform="translate(736.25,1106.70) scale(1.0959,1)" font-size="15.20" font-weight="normal" fill="#222">110.1°C</text>
<text transform="translate(842.48,1132.30) scale(1.0665,1)" font-size="15.20" font-weight="normal" fill="#222">170.2°C</text>
<text transform="translate(737.68,1168.60) scale(1.0665,1)" font-size="15.20" font-weight="normal" fill="#222">108.0°C</text>
<text transform="translate(572.63,1205.50) scale(1.0980,1)" font-size="15.20" font-weight="normal" fill="#222">50.0°C</text>
<text transform="translate(845.08,1215.50) scale(1.0740,1)" font-size="15.20" font-weight="normal" fill="#222">171.9°C</text>
<text transform="translate(739.65,1263.40) scale(1.0959,1)" font-size="15.20" font-weight="normal" fill="#222">110.1°C</text>
<text transform="translate(447.67,1281.70) scale(1.0681,1)" font-size="15.20" font-weight="normal" fill="#222">-50.9°C</text>
</svg></body></html>
